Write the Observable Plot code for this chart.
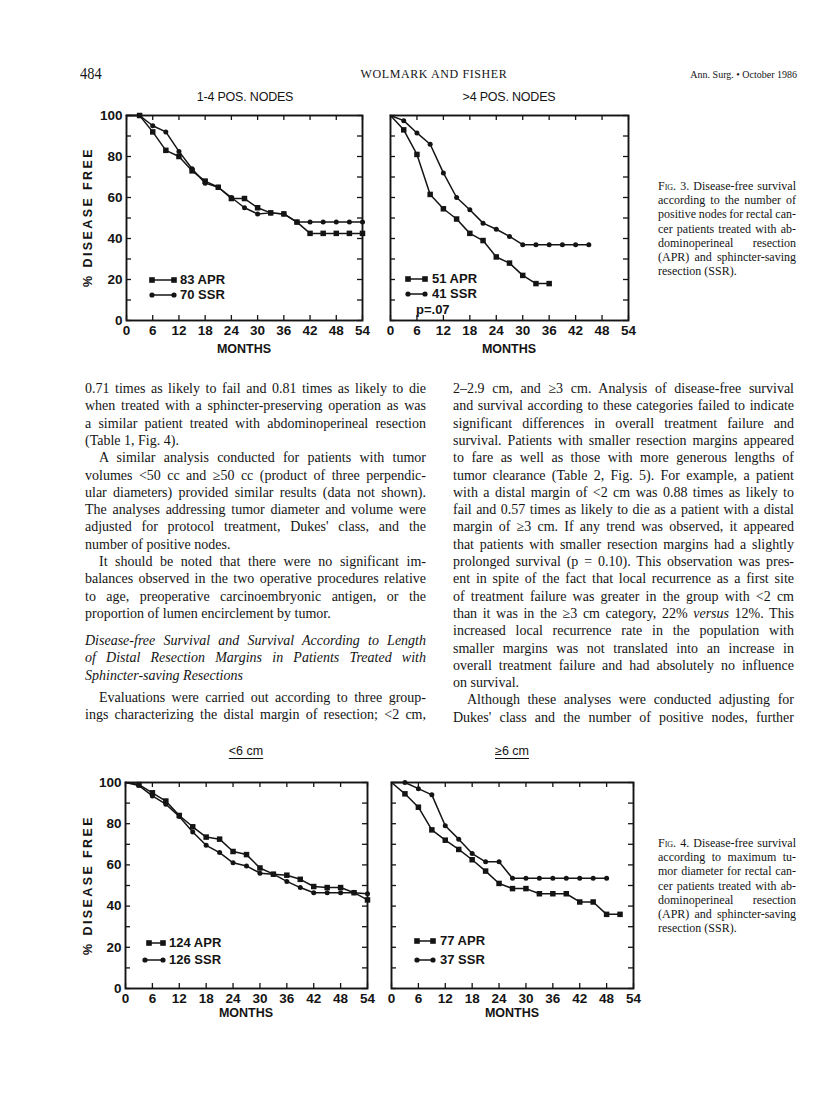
<!DOCTYPE html>
<html><head><meta charset="utf-8">
<script src="https://cdn.jsdelivr.net/npm/d3@7"></script>
<script src="https://cdn.jsdelivr.net/npm/@observablehq/plot@0.6"></script>
<style>
html,body{margin:0;padding:0;background:#fff;}
#page{position:relative;width:816px;height:1101px;overflow:hidden;background:#fff;}
.abs{position:absolute;white-space:nowrap;}
svg.panel{position:absolute;overflow:visible;}
</style></head>
<body><div id="page"></div>
<script>
// ---------------- data ----------------
const months = [0,3,6,9,12,15,18,21,24,27,30,33,36,39,42,45,48,51,54];
const xTicks = [0,6,12,18,24,30,36,42,48,54];
const yMinorTicks = [0,10,20,30,40,50,60,70,80,90,100];
const yLabelTicks = [0,20,40,60,80,100];

// Fig. 3 — 1-4 positive nodes
const nodes14APR = [100,100,92,83,80,73,68,65,59.5,59.5,55,52.5,52,48,42.5,42.5,42.5,42.5,42.5];
const nodes14SSR = [100,100,95,92,82.5,74,67,65,60,55,52,52.5,52,48,48,48,48,48,48];
// Fig. 3 — >4 positive nodes
const nodes4pAPR = [100,93,81,61.5,54.5,49.5,42.5,39,31,28,22,18,18];
const nodes4pSSR = [100,97.5,91.5,86,72,60,54,47.5,44.5,41,37,37,37,37,37,37];
// Fig. 4 — <6 cm
const lt6APR = [100,99,95,91,84,78.5,73.5,72.5,66.5,65,58.5,55.5,55,53,49.5,49,49,46.5,43];
const lt6SSR = [100,98.5,93.5,89.5,83.5,76,69.5,66,61,59.5,56,55.5,52,49,46.5,46.5,46.5,46.5,46];
// Fig. 4 — >=6 cm
const ge6APR = [100,94.5,88,77,72,67.5,62.5,57,51,48.5,48.5,46,46,46,42,42,36,36];
const ge6SSR = [100,100,97,94,79,72.5,65.5,61.5,61.5,53.5,53.5,53.5,53.5,53.5,53.5,53.5,53.5];

const panelTitles = ["1-4 POS. NODES", ">4 POS. NODES", "<6 cm", "≥6 cm"];
const legendAPR = ["83 APR", "51 APR", "124 APR", "77 APR"];
const legendSSR = ["70 SSR", "41 SSR", "126 SSR", "37 SSR"];
const pNote = "p=.07";
const xTitle = "MONTHS";
const yTitle = "% DISEASE FREE";

const header = ["484", "WOLMARK AND FISHER", "Ann. Surg. • October 1986"];

const fig3Caption = [
  '<span style="font-variant:small-caps">Fig.</span> 3. Disease-free survival',
  'according to the number of',
  'positive nodes for rectal can-',
  'cer patients treated with ab-',
  'dominoperineal resection',
  '(APR) and sphincter-saving',
  'resection (SSR).'
];
const fig4Caption = [
  '<span style="font-variant:small-caps">Fig.</span> 4. Disease-free survival',
  'according to maximum tu-',
  'mor diameter for rectal can-',
  'cer patients treated with ab-',
  'dominoperineal resection',
  '(APR) and sphincter-saving',
  'resection (SSR).'
];

// [text, justify, indent, italic]
const leftColumn = [
  ["0.71 times as likely to fail and 0.81 times as likely to die", 1, 0, 0],
  ["when treated with a sphincter-preserving operation as was", 1, 0, 0],
  ["a similar patient treated with abdominoperineal resection", 1, 0, 0],
  ["(Table 1, Fig. 4).", 0, 0, 0],
  ["A similar analysis conducted for patients with tumor", 1, 1, 0],
  ["volumes &lt;50 cc and ≥50 cc (product of three perpendic-", 1, 0, 0],
  ["ular diameters) provided similar results (data not shown).", 1, 0, 0],
  ["The analyses addressing tumor diameter and volume were", 1, 0, 0],
  ["adjusted for protocol treatment, Dukes' class, and the", 1, 0, 0],
  ["number of positive nodes.", 0, 0, 0],
  ["It should be noted that there were no significant im-", 1, 1, 0],
  ["balances observed in the two operative procedures relative", 1, 0, 0],
  ["to age, preoperative carcinoembryonic antigen, or the", 1, 0, 0],
  ["proportion of lumen encirclement by tumor.", 0, 0, 0],
  ["Disease-free Survival and Survival According to Length", 1, 0, 1],
  ["of Distal Resection Margins in Patients Treated with", 1, 0, 1],
  ["Sphincter-saving Resections", 0, 0, 1],
  ["Evaluations were carried out according to three group-", 1, 1, 0],
  ["ings characterizing the distal margin of resection; &lt;2 cm,", 1, 0, 0]
];
const rightColumn = [
  ["2–2.9 cm, and ≥3 cm. Analysis of disease-free survival", 1, 0, 0],
  ["and survival according to these categories failed to indicate", 1, 0, 0],
  ["significant differences in overall treatment failure and", 1, 0, 0],
  ["survival. Patients with smaller resection margins appeared", 1, 0, 0],
  ["to fare as well as those with more generous lengths of", 1, 0, 0],
  ["tumor clearance (Table 2, Fig. 5). For example, a patient", 1, 0, 0],
  ["with a distal margin of &lt;2 cm was 0.88 times as likely to", 1, 0, 0],
  ["fail and 0.57 times as likely to die as a patient with a distal", 1, 0, 0],
  ["margin of ≥3 cm. If any trend was observed, it appeared", 1, 0, 0],
  ["that patients with smaller resection margins had a slightly", 1, 0, 0],
  ["prolonged survival (p = 0.10). This observation was pres-", 1, 0, 0],
  ["ent in spite of the fact that local recurrence as a first site", 1, 0, 0],
  ["of treatment failure was greater in the group with &lt;2 cm", 1, 0, 0],
  ["than it was in the ≥3 cm category, 22% <i>versus</i> 12%. This", 1, 0, 0],
  ["increased local recurrence rate in the population with", 1, 0, 0],
  ["smaller margins was not translated into an increase in", 1, 0, 0],
  ["overall treatment failure and had absolutely no influence", 1, 0, 0],
  ["on survival.", 0, 0, 0],
  ["Although these analyses were conducted adjusting for", 1, 1, 0],
  ["Dukes' class and the number of positive nodes, further", 1, 0, 0]
];

// ---------------- drawing ----------------
const INK = "#141414";
const SANS = "'Liberation Sans', Arial, Helvetica, sans-serif";
const SERIF = "'Liberation Serif', 'Times New Roman', serif";
const page = document.getElementById("page");

function textAt(html, {left, top, font, justifyWidth = null, align = "left", extra = ""}) {
  const d = document.createElement("div");
  d.className = "abs";
  d.style.cssText = `font:${font};color:${INK};${extra}`;
  d.innerHTML = html;
  page.appendChild(d);
  const w = d.getBoundingClientRect().width;
  if (align === "center") d.style.left = (left - w / 2) + "px";
  else if (align === "right") d.style.left = (left - w) + "px";
  else d.style.left = left + "px";
  d.style.top = top + "px";
  if (justifyWidth != null) {
    const ext = justifyWidth - w;
    const n = (d.textContent.match(/ /g) || []).length;
    if (n && ext / n > -1.3) d.style.wordSpacing = (ext / n) + "px";
    else d.style.letterSpacing = (ext / d.textContent.length) + "px";
  }
  return d;
}

function column(lines, left, width, ys, size) {
  lines.forEach(([t, j, ind, it], i) => {
    const indent = ind ? 14 : 0;
    textAt(t, {
      left: left + indent, top: ys[i] - 10,
      font: `${it ? "italic " : ""}${size}px/17px ${SERIF}`,
      justifyWidth: j ? width - indent : null
    });
  });
}

function panel(cfg) {
  const {fx, fy, fw, fh, apr, ssr, showY} = cfg;
  const mL = 50, mR = 12, mT = 12, mB = 30;
  const rows = arr => arr.map((v, i) => ({m: months[i], v}));
  const a = rows(apr), s = rows(ssr);
  const svg = Plot.plot({
    width: fw + mL + mR, height: fh + mT + mB,
    marginLeft: mL, marginRight: mR, marginTop: mT, marginBottom: mB,
    x: {domain: [0, 54], axis: null},
    y: {domain: [0, 100], axis: null},
    style: {fontFamily: SANS, fontSize: "13.5px", fontWeight: "bold", color: INK, background: "transparent", overflow: "visible"},
    marks: [
      Plot.tickY(yMinorTicks, {y: d => d, insetRight: fw - 5, stroke: INK, strokeWidth: 1.3}),
      Plot.tickY(yMinorTicks, {y: d => d, insetLeft: fw - 5, stroke: INK, strokeWidth: 1.3}),
      Plot.tickX(xTicks, {x: d => d, insetTop: fh - 5, stroke: INK, strokeWidth: 1.3}),
      Plot.tickX(xTicks, {x: d => d, insetBottom: fh - 5, stroke: INK, strokeWidth: 1.3}),
      Plot.axisX(xTicks, {tickSize: 0, tickPadding: 5, label: null, tickFormat: d => String(d)}),
      showY ? Plot.axisY(yLabelTicks, {tickSize: 0, tickPadding: 4, label: null, tickFormat: d => String(d)}) : null,
      Plot.frame({stroke: INK, strokeWidth: 1.9}),
      Plot.line(a, {x: "m", y: "v", stroke: INK, strokeWidth: 1.5}),
      Plot.line(s, {x: "m", y: "v", stroke: INK, strokeWidth: 1.5}),
      Plot.dot(a.slice(1), {x: "m", y: "v", symbol: "square", r: 3.1, fill: INK, stroke: null}),
      Plot.dot(s.slice(1), {x: "m", y: "v", symbol: "circle", r: 2.5, fill: INK, stroke: null})
    ]
  });
  svg.classList.add("panel");
  svg.style.left = (fx - mL) + "px";
  svg.style.top = (fy - mT) + "px";
  page.appendChild(svg);
}

function legendRow(x1, x2, y, symbol, label, tx) {
  const ns = "http://www.w3.org/2000/svg";
  const svg = document.createElementNS(ns, "svg");
  svg.setAttribute("width", 816); svg.setAttribute("height", 1101);
  svg.style.cssText = "position:absolute;left:0;top:0;pointer-events:none;overflow:visible";
  const g = d3.select(svg);
  g.append("line").attr("x1", x1).attr("x2", x2).attr("y1", y).attr("y2", y).attr("stroke", INK).attr("stroke-width", 1.5);
  [x1, x2].forEach(x => {
    if (symbol === "square") g.append("rect").attr("x", x - 2.8).attr("y", y - 2.8).attr("width", 5.6).attr("height", 5.6).attr("fill", INK);
    else g.append("circle").attr("cx", x).attr("cy", y).attr("r", 2.6).attr("fill", INK);
  });
  page.appendChild(svg);
  if (label) textAt(label, {left: tx, top: y - 7, font: `bold 13px/13px ${SANS}`});
}

// header
textAt(header[0], {left: 80, top: 65, font: `16px/18px ${SERIF}`, extra: "transform:scaleX(0.9);transform-origin:left"});
textAt(header[1], {left: 434, top: 67, font: `12px/14px ${SERIF}`, align: "center", extra: "letter-spacing:0.6px"});
textAt(header[2], {left: 797, top: 69, font: `10px/12px ${SERIF}`, align: "right"});

// panels
const panels = [
  {fx: 126, fy: 115, fw: 236, fh: 205, apr: nodes14APR, ssr: nodes14SSR, showY: true},
  {fx: 390, fy: 115, fw: 238, fh: 205, apr: nodes4pAPR, ssr: nodes4pSSR, showY: false},
  {fx: 125, fy: 782, fw: 242, fh: 206, apr: lt6APR, ssr: lt6SSR, showY: true},
  {fx: 391, fy: 782, fw: 242, fh: 206, apr: ge6APR, ssr: ge6SSR, showY: false}
];
panels.forEach(panel);

// panel titles
const titleFont = `12.5px/13px ${SANS}`;
textAt(panelTitles[0], {left: 245, top: 91, font: titleFont, align: "center", extra: "letter-spacing:-0.2px"});
textAt(panelTitles[1], {left: 509, top: 91, font: titleFont, align: "center", extra: "letter-spacing:-0.2px"});
textAt(panelTitles[2], {left: 246, top: 745, font: titleFont, align: "center", extra: "text-decoration:underline;text-underline-offset:3px"});
textAt(panelTitles[3], {left: 512, top: 745, font: titleFont, align: "center", extra: "text-decoration:underline;text-underline-offset:3px"});

// x titles
[[244, 343], [509, 343], [246, 1007], [512, 1007]].forEach(([x, y]) =>
  textAt(xTitle, {left: x, top: y, font: `bold 12.5px/13px ${SANS}`, align: "center"}));

// y titles
[217, 885].forEach(cy => {
  const d = document.createElement("div");
  d.className = "abs";
  d.textContent = yTitle;
  d.style.cssText = `left:88px;top:${cy}px;font:bold 12.5px/13px ${SANS};letter-spacing:2.4px;color:${INK};transform:translate(-50%,-50%) rotate(-90deg);`;
  page.appendChild(d);
});

// legends
legendRow(152, 174, 280, "square", legendAPR[0], 180);
legendRow(152, 174, 295, "circle", legendSSR[0], 180);
legendRow(408, 425, 279, "square", legendAPR[1], 432);
legendRow(408, 425, 294, "circle", legendSSR[1], 432);
textAt(pNote, {left: 416, top: 303, font: `bold 13px/13px ${SANS}`});
legendRow(149, 163, 943, "square", legendAPR[2], 169);
legendRow(145, 163, 960, "circle", legendSSR[2], 169);
legendRow(417, 433, 941, "square", legendAPR[3], 440);
legendRow(417, 433, 960, "circle", legendSSR[3], 440);

// captions
fig3Caption.forEach((t, i) => textAt(t, {left: 658, top: 179 + i * 14.2, font: `12px/14px ${SERIF}`, justifyWidth: i < fig3Caption.length - 1 ? 138 : null}));
fig4Caption.forEach((t, i) => textAt(t, {left: 658, top: 836 + i * 14.2, font: `12px/14px ${SERIF}`, justifyWidth: i < fig4Caption.length - 1 ? 138 : null}));

// body text
const LH = 17.3;
const leftYs = leftColumn.map((_, i) => i < 14 ? 390 + i * LH : i < 17 ? 642 + (i - 14) * LH : 699 + (i - 17) * LH);
const rightYs = rightColumn.map((_, i) => 390 + i * LH);
column(leftColumn, 85, 341, leftYs, 14);
column(rightColumn, 453, 341, rightYs, 14);
</script>
</body></html>
